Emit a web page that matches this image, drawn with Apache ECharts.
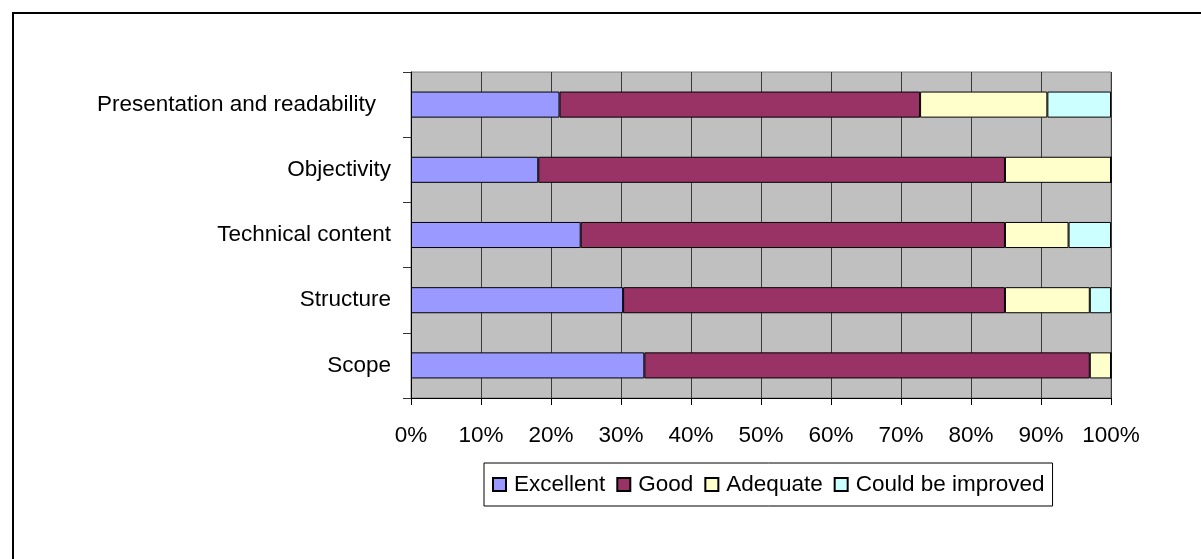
<!DOCTYPE html>
<html>
<head>
<meta charset="utf-8">
<title>Assessment ratings</title>
<script src="https://cdn.jsdelivr.net/npm/echarts@6/dist/echarts.min.js"></script>
<style>
  html, body { margin: 0; padding: 0; background: #ffffff; }
  #chart { width: 1201px; height: 559px; }
</style>
</head>
<body>
<div id="chart"></div>
<script>
// Criteria, listed bottom to top as the category axis draws them
const categories = ['Scope', 'Structure', 'Technical content', 'Objectivity', 'Presentation and readability'];

// Number of responses per rating for each criterion
const excellent = [11, 10, 8, 6, 7];
const good = [21, 18, 20, 22, 17];
const adequate = [1, 4, 3, 5, 6];
const couldBeImproved = [0, 1, 2, 0, 3];

const seriesNames = ['Excellent', 'Good', 'Adequate', 'Could be improved'];
const seriesColors = ['#9999FF', '#993366', '#FFFFCC', '#CCFFFF'];

// Tick labels along the value axis
const xTicks = [0, 10, 20, 30, 40, 50, 60, 70, 80, 90, 100];

const FONT = "'Liberation Sans', Arial, sans-serif";

const counts = [excellent, good, adequate, couldBeImproved];
const totals = categories.map((_, i) => counts.reduce((s, arr) => s + arr[i], 0));
const shares = counts.map(arr => arr.map((v, i) => (v / totals[i]) * 100));

const chart = echarts.init(document.getElementById('chart'), null, { renderer: 'canvas' });

chart.setOption({
  backgroundColor: '#ffffff',
  animation: false,
  textStyle: { fontFamily: FONT, color: '#000' },
  graphic: [{
    type: 'rect',
    shape: { x: 13, y: 13, width: 1400, height: 800 },
    style: { fill: 'none', stroke: '#000', lineWidth: 2 },
    silent: true,
    z: 100
  }],
  grid: {
    left: 411,
    right: 90,
    top: 72,
    bottom: 161,
    show: true,
    backgroundColor: '#C0C0C0',
    borderColor: '#808080',
    borderWidth: 1
  },
  legend: {
    data: seriesNames,
    left: 484,
    top: 463,
    orient: 'horizontal',
    itemWidth: 13,
    itemHeight: 13,
    itemGap: 11,
    padding: [10, 8, 10, 8],
    borderColor: '#000',
    borderWidth: 1,
    icon: 'rect',
    textStyle: { fontFamily: FONT, fontSize: 22.5, color: '#000', padding: [0, 0, 0, 3] }
  },
  xAxis: {
    type: 'value',
    min: 0,
    max: 100,
    interval: 10,
    axisLine: { show: true, lineStyle: { color: '#000', width: 1 } },
    axisTick: { show: true, length: 7, lineStyle: { color: '#000' } },
    axisLabel: {
      margin: 26,
      fontFamily: FONT,
      fontSize: 22.5,
      color: '#000',
      formatter: v => xTicks.includes(v) ? v + '%' : ''
    },
    splitLine: { show: true, lineStyle: { color: '#3a3a3a', width: 1 } }
  },
  yAxis: {
    type: 'category',
    data: categories,
    axisLine: { show: true, lineStyle: { color: '#000', width: 1 } },
    axisTick: { show: true, length: 8, lineStyle: { color: '#333' } },
    axisLabel: {
      margin: 20,
      fontFamily: FONT,
      fontSize: 22.5,
      color: '#000',
      formatter: v => v === 'Presentation and readability' ? '{pad|' + v + '}' : v,
      rich: { pad: { fontFamily: FONT, fontSize: 22.5, color: '#000', padding: [0, 15, 0, 0] } }
    },
    splitLine: { show: false }
  },
  series: seriesNames.map((name, k) => ({
    name,
    type: 'bar',
    stack: 'total',
    barWidth: '40%',
    data: shares[k],
    itemStyle: { color: seriesColors[k], borderColor: '#000', borderWidth: 1 },
    emphasis: { disabled: true }
  }))
});
</script>
</body>
</html>
